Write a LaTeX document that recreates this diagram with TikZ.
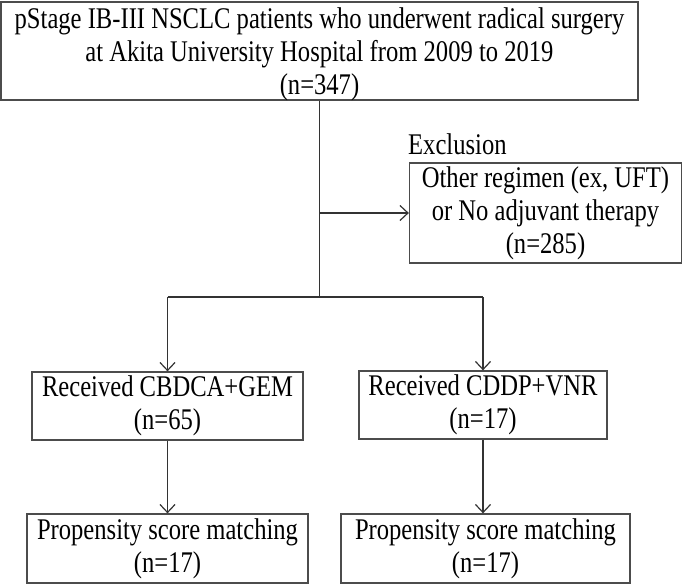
\documentclass[tikz,border=0pt]{standalone}
\usepackage{fontspec}
\setmainfont[FakeStretch=0.82]{Liberation Serif}
\usetikzlibrary{arrows.meta}
\tikzset{
  box/.style={draw=black!70, line width=1.3pt, inner sep=0pt, align=center,
    font=\fontsize{30}{33}\selectfont},
  conn/.style={draw=black!80, line width=1.3pt},
  arr/.style={conn, -{Straight Barb[length=8pt,width=15pt,line width=1.2pt]}},
  lbl/.style={inner sep=0pt, font=\fontsize{30}{33}\selectfont}
}
\begin{document}
\begin{tikzpicture}[x=1pt,y=-1pt]
\useasboundingbox (0,0) rectangle (685,585);
\node[draw=black!70, line width=1.3pt, inner sep=0pt, font=\fontsize{30}{33}\selectfont,
  minimum width=637pt, minimum height=98pt] (top) at (319.5,51)
  {\raisebox{-10.5pt}[0pt][0pt]{\begin{tabular}{@{}c@{}}pStage IB-III NSCLC patients who underwent radical surgery\\at Akita University Hospital from 2009 to 2019\\(n=347)\end{tabular}}};
\node[box, minimum width=272pt, minimum height=100pt] (excl) at (545.5,213)
  {Other regimen (ex, UFT)\\or No adjuvant therapy\\(n=285)};
\node[lbl, anchor=west] (exlab) at (408,144) {Exclusion};
\node[box, minimum width=271pt, minimum height=68pt] (lmid) at (167.5,406)
  {Received CBDCA+GEM\\(n=65)};
\node[box, minimum width=248pt, minimum height=68pt] (rmid) at (483,405)
  {Received CDDP+VNR\\(n=17)};
\node[box, minimum width=281pt, minimum height=69pt] (lbot) at (167.5,548.5)
  {Propensity score matching\\(n=17)};
\node[box, minimum width=289pt, minimum height=69pt] (rbot) at (485.5,548.5)
  {Propensity score matching\\(n=17)};
\coordinate (br) at (319.5,297);
\coordinate (ea) at (319.5,213);
\coordinate (bl) at (167.5,297);
\coordinate (brr) at (483,297);
\draw[conn] (top.south) -- (br);
\draw[arr] (ea) -- (excl.west);
\draw[conn] (bl) -- (brr);
\draw[arr] (bl) -- (lmid.north);
\draw[arr] (brr) -- (rmid.north);
\draw[arr] (lmid.south) -- (lmid.south |- lbot.north);
\draw[arr] (rmid.south) -- (rmid.south |- rbot.north);
\end{tikzpicture}
\end{document}
